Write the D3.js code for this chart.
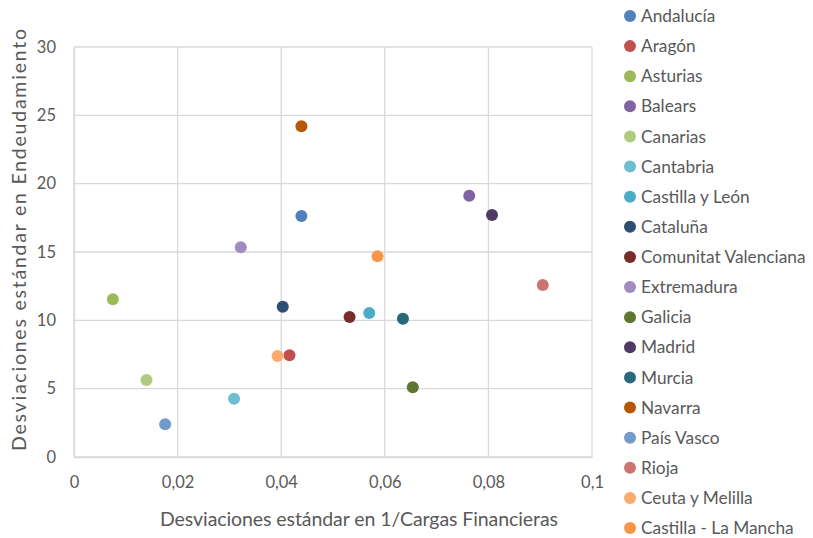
<!DOCTYPE html>
<html>
<head>
<meta charset="utf-8">
<script src="https://cdn.jsdelivr.net/npm/d3@7"></script>
<style>
  body { margin: 0; background: #fff; }
  svg { display: block; font-family: Lato, "Open Sans", sans-serif; }
</style>
</head>
<body>
<svg id="chart" width="813" height="538"></svg>
<script>
const regions = ["Andalucía","Aragón","Asturias","Balears","Canarias","Cantabria","Castilla y León","Cataluña","Comunitat Valenciana","Extremadura","Galicia","Madrid","Murcia","Navarra","País Vasco","Rioja","Ceuta y Melilla","Castilla - La Mancha"];
const xValues = [0.0439,0.0416,0.0075,0.0763,0.0140,0.0309,0.0570,0.0403,0.0532,0.0322,0.0654,0.0807,0.0635,0.0439,0.0176,0.0905,0.0393,0.0586];
const yValues = [17.63,7.44,11.54,19.12,5.63,4.27,10.54,11.0,10.24,15.34,5.10,17.7,10.12,24.2,2.39,12.58,7.39,14.68];
const colors = ["#4F81BD","#C0504D","#9BBB59","#8064A2","#B0CB80","#6FBDD3","#4BACC6","#2C4D75","#772C2A","#A08CBE","#5F7530","#4D3B62","#276A7C","#B65708","#729ACA","#CD7371","#F9AB6E","#F79646"];
const xTicks = [0,0.02,0.04,0.06,0.08,0.1];
const yTicks = [0,5,10,15,20,25,30];
const xTitle = "Desviaciones estándar en 1/Cargas Financieras";
const yTitle = "Desviaciones estándar en Endeudamiento";

const svg = d3.select("#chart");
const x = d3.scaleLinear().domain([0,0.1]).range([74,592]);
const y = d3.scaleLinear().domain([0,30]).range([457,47]);
const grid = "#D9D9D9", txt = "#595959";

// gridlines
svg.append("g").selectAll("line").data(xTicks).join("line")
  .attr("x1", d => x(d)).attr("x2", d => x(d)).attr("y1", y(0)).attr("y2", y(30))
  .attr("stroke", grid).attr("stroke-width", 1.3);
svg.append("g").selectAll("line").data(yTicks).join("line")
  .attr("x1", x(0)).attr("x2", x(0.1)).attr("y1", d => y(d)).attr("y2", d => y(d))
  .attr("stroke", grid).attr("stroke-width", 1.3);

// axes
const fmt = d => d === 0 ? "0" : String(d).replace(".", ",");
const xAxis = svg.append("g").attr("transform", `translate(0,${y(0)})`)
  .call(d3.axisBottom(x).tickValues(xTicks).tickFormat(fmt).tickSize(0).tickPadding(19.5));
const yAxis = svg.append("g").attr("transform", `translate(${x(0)},0)`)
  .call(d3.axisLeft(y).tickValues(yTicks).tickFormat(fmt).tickSize(0).tickPadding(18));
[xAxis, yAxis].forEach(a => {
  a.select(".domain").attr("stroke", grid).attr("stroke-width", 1.3);
  a.selectAll("text").attr("fill", txt).attr("font-size", 16.5).attr("font-family", "Lato, sans-serif");
});

// titles
svg.append("text").attr("x", 359).attr("y", 526).attr("text-anchor", "middle")
  .attr("fill", txt).attr("font-size", 19.5).attr("textLength", 398).attr("lengthAdjust", "spacing").text(xTitle);
svg.append("text").attr("transform", `translate(26,240) rotate(-90)`).attr("text-anchor", "middle")
  .attr("fill", txt).attr("font-size", 19.5).attr("textLength", 422).attr("lengthAdjust", "spacing").text(yTitle);

// points
svg.append("g").selectAll("circle").data(regions).join("circle")
  .attr("cx", (d,i) => x(xValues[i])).attr("cy", (d,i) => y(yValues[i]))
  .attr("r", 6).attr("fill", (d,i) => colors[i]);

// legend
const lg = svg.append("g").selectAll("g").data(regions).join("g")
  .attr("transform", (d,i) => `translate(630,${16 + i*30.12})`);
lg.append("circle").attr("r", 6).attr("fill", (d,i) => colors[i]);
lg.append("text").attr("x", 11).attr("dy", "0.35em").attr("fill", txt)
  .attr("font-size", 17.3).text(d => d);
</script>
</body>
</html>
